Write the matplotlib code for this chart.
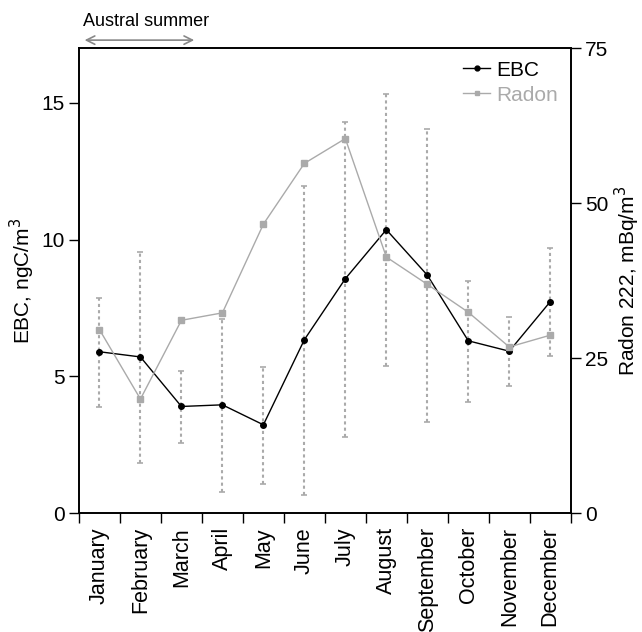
import matplotlib
matplotlib.use("Agg")
import matplotlib.pyplot as plt
from matplotlib.lines import Line2D
import numpy as np

plt.rcParams["font.family"] = ["Liberation Sans", "DejaVu Sans"]
plt.rcParams["font.size"] = 15

months = ["January", "February", "March", "April", "May", "June", "July",
          "August", "September", "October", "November", "December"]
ebc = [5.90, 5.71, 3.90, 3.96, 3.23, 6.34, 8.57, 10.36, 8.70, 6.30, 5.92, 7.73]
ebc_low = [3.89, 1.84, 2.57, 0.78, 1.08, 0.66, 2.78, 5.39, 3.35, 4.07, 4.65, 5.75]
ebc_high = [7.87, 9.55, 5.20, 7.08, 5.35, 11.97, 14.28, 15.31, 14.04, 8.49, 7.16, 9.68]
radon = [29.6, 18.4, 31.1, 32.3, 46.6, 56.4, 60.4, 41.3, 36.9, 32.4, 26.8, 28.7]

GREY = "#aaaaaa"
x = np.arange(len(months))
ebc = np.array(ebc)
yerr = [ebc - np.array(ebc_low), np.array(ebc_high) - ebc]

fig = plt.figure(figsize=(6.42, 6.32), dpi=100)
ax = fig.add_axes([0.123, 0.188, 0.766, 0.736])
ax2 = ax.twinx()

# error bars of EBC, dotted grey
eb = ax.errorbar(x, ebc, yerr=yerr, fmt="none", ecolor=GREY, elinewidth=1.5,
                 capsize=2.5, capthick=1.2, zorder=1)
eb[2][0].set_linestyle((0, (1.5, 1.5)))

ax.plot(x, ebc, color="black", lw=1, marker="o", markersize=4, zorder=3)
ax2.plot(x, radon, color=GREY, lw=1, marker="s", markersize=4, zorder=2)

ax.set_xlim(-0.5, 11.5)
ax.set_ylim(0, 17)
ax2.set_ylim(0, 75)
ax.set_yticks([0, 5, 10, 15])
ax2.set_yticks([0, 25, 50, 75])

ax.set_xticks(np.arange(-0.5, 12, 1))
ax.set_xticklabels([])
ax.set_xticks(x, minor=True)
ax.set_xticklabels(months, minor=True, rotation=90, fontsize=15.5)
ax.tick_params(axis="x", which="minor", length=0, pad=10)
ax.tick_params(axis="x", which="major", length=7, width=1)
ax.tick_params(axis="y", length=7, width=1)
ax2.tick_params(axis="y", length=7, width=1)

for a in (ax, ax2):
    for s in a.spines.values():
        s.set_linewidth(1.2)

ax.set_ylabel("EBC, ngC/m$^3$", labelpad=3)
ax2.set_ylabel("Radon 222, mBq/m$^3$", labelpad=3)

handles = [
    Line2D([], [], color="black", lw=1, marker="o", markersize=3.5),
    Line2D([], [], color=GREY, lw=1, marker="s", markersize=3.5),
]
ax2.legend(handles, ["EBC", "Radon"], loc="upper right", frameon=False,
           handlelength=1.3, handletextpad=0.3, labelspacing=0.3,
           labelcolor=["black", GREY], borderaxespad=0.2)

# Austral summer annotation
ax.annotate("", xy=(-0.43, 1.017), xytext=(2.38, 1.017),
            xycoords=("data", "axes fraction"),
            arrowprops=dict(arrowstyle="<->", color="#888888", lw=1.2),
            annotation_clip=False)
ax.text(-0.4, 1.056, "Austral summer", transform=ax.get_xaxis_transform(),
        fontsize=13, va="center", ha="left")

fig.savefig("out.png", dpi=100)
